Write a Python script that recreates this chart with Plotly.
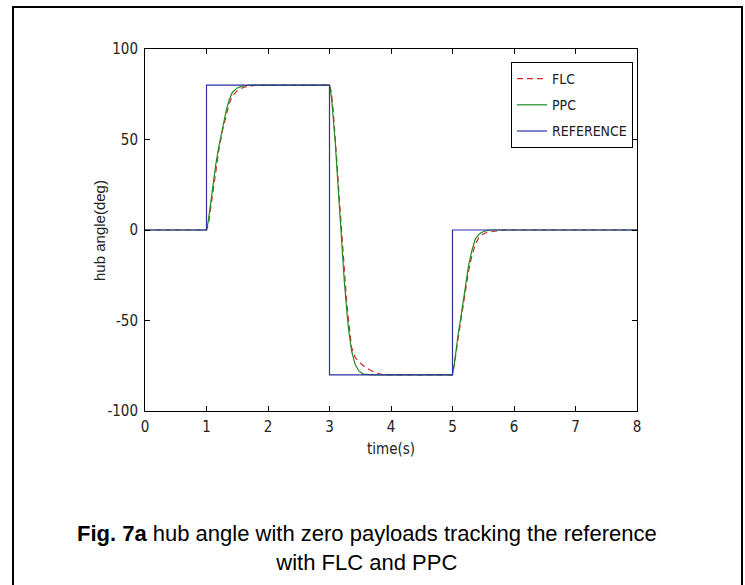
import plotly.graph_objects as go

# ---------------- data ----------------
t_ref = [0, 1, 1, 3, 3, 5, 5, 8]
ref_deg = [0, 0, 80, 80, -80, -80, 0, 0]

t_ppc = [0, 1.0, 1.03, 1.06, 1.10, 1.15, 1.20, 1.26, 1.32, 1.37, 1.42, 1.50, 1.58, 1.70,
         3.0, 3.03, 3.06, 3.09, 3.13, 3.16, 3.20, 3.24, 3.28, 3.31, 3.36, 3.42, 3.48, 3.55, 3.70,
         5.0, 5.03, 5.05, 5.09, 5.13, 5.17, 5.21, 5.26, 5.31, 5.37, 5.44, 5.52, 5.62, 8.0]
ppc_deg = [0, 0, 5, 13, 25, 36, 46, 57, 66, 72, 76, 78.5, 79.5, 80,
           80, 74, 63, 50, 29, 13, -8, -28, -44, -55, -67, -74.5, -78, -79.6, -80,
           -80, -74, -68, -58, -49.5, -40, -31, -20, -12, -5, -2, -0.6, 0, 0]

t_flc = [0, 1.0, 1.03, 1.06, 1.10, 1.15, 1.20, 1.26, 1.32, 1.37, 1.42, 1.50, 1.60, 1.70, 1.80,
         3.0, 3.03, 3.06, 3.09, 3.13, 3.16, 3.20, 3.24, 3.28, 3.32, 3.36, 3.42, 3.50, 3.58, 3.68, 3.77, 3.87,
         5.0, 5.03, 5.05, 5.09, 5.13, 5.17, 5.21, 5.26, 5.31, 5.37, 5.44, 5.52, 5.62, 5.72, 5.85, 8.0]
flc_deg = [0, 0, 3, 10, 22, 33, 44, 55, 64, 70, 74, 77, 78.8, 79.5, 80,
           80, 76, 66, 53, 33, 17, -4, -24, -40, -53, -65, -70.5, -73.5, -75.8, -77.8, -79, -80,
           -80, -75, -70, -60, -51, -42, -33, -23, -15, -8, -3.5, -1.8, -1.0, -0.4, 0, 0]

x_ticks = [0, 1, 2, 3, 4, 5, 6, 7, 8]
x_ticktext = ["0", "1", "2", "3", "4", "5", "6", "7", "8"]
y_ticks = [-100, -50, 0, 50, 100]
y_ticktext = ["-100", "-50", "0", "50", "100"]

series_names = ["FLC", "PPC", "REFERENCE"]
x_title = "time(s)"
y_title = "hub angle(deg)"
caption = "<b>Fig. 7a</b> hub angle with zero payloads tracking the reference<br>with FLC and PPC"

W, H = 745, 585
NARROW = "DejaVu Sans Condensed, Liberation Sans Narrow, sans-serif"
ARIAL = "Liberation Sans, Arial, sans-serif"

fig = go.Figure()
fig.add_trace(go.Scatter(x=t_flc, y=flc_deg, mode="lines", name=series_names[0], legendgroup="a",
                         line=dict(color="#d42a2a", width=1.2, dash="6px,4px")))
fig.add_trace(go.Scatter(x=t_ppc, y=ppc_deg, mode="lines", name=series_names[1], legendgroup="b",
                         line=dict(color="#1f8a1f", width=1.2)))
fig.add_trace(go.Scatter(x=t_ref, y=ref_deg, mode="lines", name=series_names[2], legendgroup="c",
                         line=dict(color="#2f2fa6", width=1.2)))

axis_common = dict(showline=True, linecolor="black", linewidth=1, mirror="ticks",
                   ticks="inside", ticklen=5, tickcolor="black", showgrid=False,
                   zeroline=False, automargin=False,
                   tickfont=dict(family=NARROW, size=15, color="#222"))

fig.update_layout(
    width=W, height=H,
    margin=dict(l=0, r=0, t=0, b=0, pad=0, autoexpand=False),
    paper_bgcolor="white", plot_bgcolor="white",
    showlegend=True,
    legend=dict(x=633 / W, y=1 - 62 / H, xanchor="right", yanchor="top",
                bordercolor="black", borderwidth=1, bgcolor="white",
                font=dict(family=NARROW, size=14, color="#222"),
                traceorder="grouped", tracegroupgap=5),
    xaxis=dict(domain=[145 / W, 637 / W], range=[0, 8], tickvals=x_ticks, ticktext=x_ticktext,
               ticklabelstandoff=2,
               title=dict(text=x_title, font=dict(family=NARROW, size=15, color="#222"), standoff=8),
               **axis_common),
    yaxis=dict(domain=[1 - 411 / H, 1 - 49 / H], range=[-100, 100], tickvals=y_ticks, ticktext=y_ticktext,
               ticklabelstandoff=3, **axis_common),
    shapes=[dict(type="rect", xref="paper", yref="paper",
                 x0=13 / W, x1=742 / W, y0=-0.05, y1=1 - 7 / H,
                 line=dict(color="black", width=2), fillcolor="rgba(0,0,0,0)")],
    annotations=[
        dict(text=y_title, xref="paper", yref="paper", x=100 / W, y=1 - 231 / H,
             xanchor="center", yanchor="middle", showarrow=False, textangle=-90,
             font=dict(family=ARIAL, size=15, color="#222")),
        dict(text=caption, xref="paper", yref="paper", x=0.493, y=1 - 548 / H,
             xanchor="center", yanchor="middle", showarrow=False, align="center",
             font=dict(family=ARIAL, size=22, color="black")),
    ],
)

fig.write_html("out.html")
